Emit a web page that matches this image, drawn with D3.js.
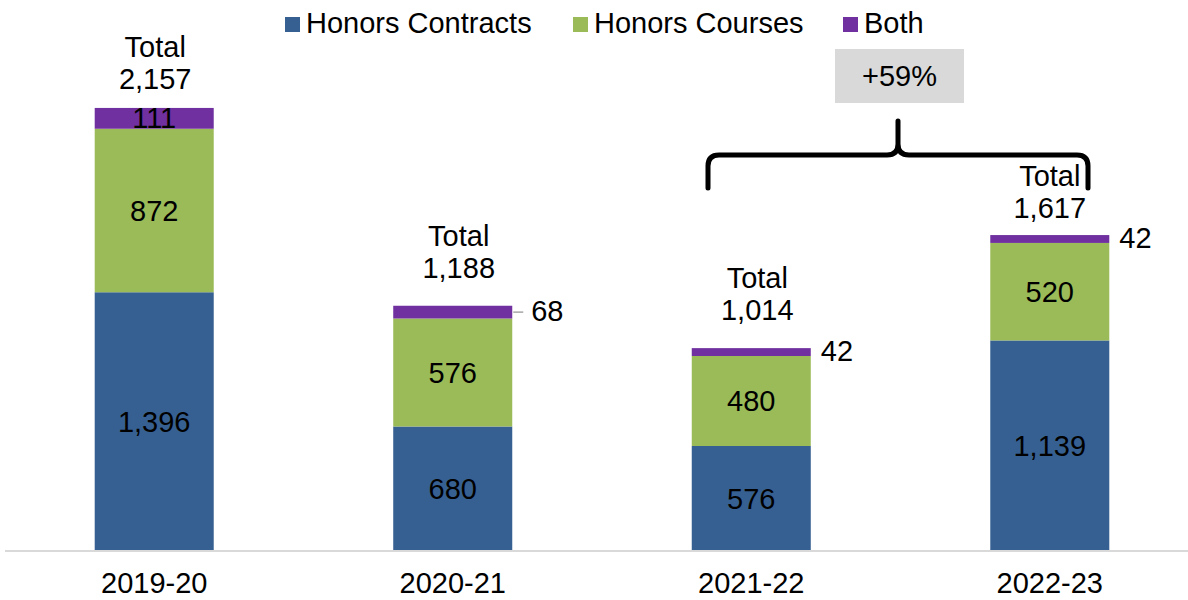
<!DOCTYPE html>
<html><head><meta charset="utf-8">
<script src="https://cdn.jsdelivr.net/npm/d3@7"></script>
<style>body{margin:0;background:#fff;} text{font-family:"Liberation Sans",Arial,sans-serif;}</style>
</head><body>
<svg id="chart" width="1188" height="600"></svg>
<script>
const categories = ["2019-20", "2020-21", "2021-22", "2022-23"];
const seriesNames = ["Honors Contracts", "Honors Courses", "Both"];
const contracts = [1396, 680, 576, 1139];
const courses = [872, 576, 480, 520];
const both = [111, 68, 42, 42];
const totals = [2157, 1188, 1014, 1617];
const changeLabel = "+59%";

const colors = ["#376092", "#9BBB59", "#7030A0"];
const fs = 29;
const svg = d3.select("#chart");
const fmt = d3.format(",");

const x = d3.scaleBand().domain(categories).range([25, 1179]).paddingInner(0.6013).paddingOuter(0.2335);
const y = d3.scaleLinear().domain([0, 2400]).range([554, 104]);

svg.append("defs").append("clipPath").attr("id", "plotclip")
  .append("rect").attr("x", 0).attr("y", 0).attr("width", 1188).attr("height", 551);

const rows = categories.map((c, i) => ({cat: c, "Honors Contracts": contracts[i], "Honors Courses": courses[i], "Both": both[i]}));
const stacked = d3.stack().keys(seriesNames)(rows);

const barsG = svg.append("g").attr("clip-path", "url(#plotclip)");
stacked.forEach((layer, li) => {
  barsG.append("g").selectAll("rect").data(layer).join("rect")
    .attr("x", d => x(d.data.cat))
    .attr("width", x.bandwidth())
    .attr("y", d => y(d[1]))
    .attr("height", d => y(d[0]) - y(d[1]))
    .attr("fill", colors[li]);
});

// axis
const xAxis = d3.axisBottom(x).tickSize(0).tickPadding(0);
const gx = svg.append("g").attr("transform", "translate(0,551)").call(xAxis);
gx.select(".domain").remove();
gx.selectAll("text").attr("font-size", fs).attr("fill", "#000")
  .attr("dy", null).attr("y", 32).attr("dominant-baseline", "central")
  .style("font-family", "'Liberation Sans', Arial, sans-serif");
svg.append("line").attr("x1", 5).attr("x2", 1188).attr("y1", 551).attr("y2", 551)
  .attr("stroke", "#D9D9D9").attr("stroke-width", 2);

// inner labels for contracts and courses
[0, 1].forEach(li => {
  svg.append("g").selectAll("text").data(stacked[li]).join("text")
    .attr("x", d => x(d.data.cat) + x.bandwidth() / 2)
    .attr("y", d => (Math.min(y(d[0]), 551) + y(d[1])) / 2)
    .attr("text-anchor", "middle").attr("dominant-baseline", "central")
    .attr("font-size", fs).attr("fill", "#000")
    .text(d => fmt(d[1] - d[0]));
});

// "Both" labels
stacked[2].forEach((d, i) => {
  const cy = (y(d[0]) + y(d[1])) / 2;
  if (i === 0) {
    svg.append("text").attr("x", x(d.data.cat) + x.bandwidth() / 2).attr("y", cy)
      .attr("text-anchor", "middle").attr("dominant-baseline", "central")
      .attr("font-size", fs).text(fmt(d[1] - d[0]));
  } else {
    const right = x(d.data.cat) + x.bandwidth();
    let tx = right + 10;
    if (i === 1) {
      svg.append("line").attr("x1", right + 1).attr("x2", right + 11).attr("y1", cy).attr("y2", cy)
        .attr("stroke", "#A6A6A6").attr("stroke-width", 1.5);
      tx = right + 19;
    }
    svg.append("text").attr("x", tx).attr("y", cy - 1)
      .attr("dominant-baseline", "central").attr("font-size", fs).text(fmt(d[1] - d[0]));
  }
});

// totals
const totDy = [29, 38, 38, 27];
const totDx = [1, 6, 6, 0];
stacked[2].forEach((d, i) => {
  const cx = x(d.data.cat) + x.bandwidth() / 2 + totDx[i];
  const top = y(d[1]);
  svg.append("text").attr("x", cx).attr("y", top - totDy[i]).attr("text-anchor", "middle")
    .attr("dominant-baseline", "central").attr("font-size", fs).text(fmt(totals[i]));
  svg.append("text").attr("x", cx).attr("y", top - totDy[i] - 32).attr("text-anchor", "middle")
    .attr("dominant-baseline", "central").attr("font-size", fs).text("Total");
});

// legend
const legX = [285, 573, 843];
seriesNames.forEach((s, i) => {
  svg.append("rect").attr("x", legX[i]).attr("y", 17).attr("width", 15).attr("height", 15).attr("fill", colors[i]);
  svg.append("text").attr("x", legX[i] + 21).attr("y", 23).attr("dominant-baseline", "central")
    .attr("font-size", fs).text(s);
});

// brace
const bx1 = 708, bx2 = 1088, bm = 898, by = 155, bb = 188, bt = 121, r = 11;
svg.append("path")
  .attr("d", `M${bx1},${bb} V${by + r} Q${bx1},${by} ${bx1 + r},${by} H${bm - r} Q${bm},${by} ${bm},${by - r} V${bt}` +
    ` M${bm},${by - r} Q${bm},${by} ${bm + r},${by} H${bx2 - r} Q${bx2},${by} ${bx2},${by + r} V${bb}`)
  .attr("fill", "none").attr("stroke", "#000").attr("stroke-width", 5).attr("stroke-linecap", "round").attr("stroke-linejoin", "round");

// change box
svg.append("rect").attr("x", 835).attr("y", 49).attr("width", 129).attr("height", 54).attr("fill", "#D9D9D9");
svg.append("text").attr("x", 899.5).attr("y", 76).attr("text-anchor", "middle").attr("dominant-baseline", "central")
  .attr("font-size", fs).text(changeLabel);
</script>
</body></html>
